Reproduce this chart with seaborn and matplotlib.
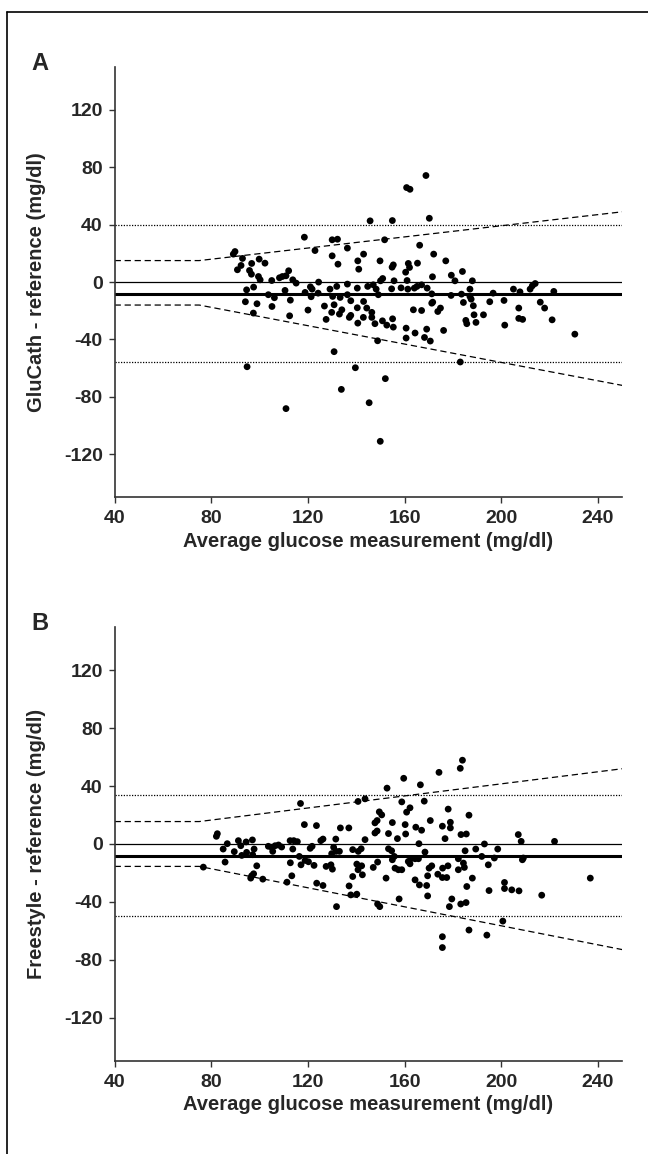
import matplotlib
matplotlib.use("Agg")
import matplotlib.pyplot as plt
import seaborn as sns
import pandas as pd
from matplotlib.lines import Line2D

# Panel A: GluCath - reference vs average glucose
gluc_avg = [118.5, 130.0, 132.2, 122.9, 136.3, 89.8, 89.1, 92.9, 99.8, 102.2, 96.7, 92.3, 90.8, 95.8,
            130.0, 132.4, 140.6, 141.0, 96.6, 99.5, 100.2, 105.0, 108.2, 109.4, 110.9, 112.0, 113.7,
            115.1, 124.4, 94.6, 97.5, 110.5, 103.6, 106.1, 118.8, 121.0, 121.7, 121.3, 124.2, 129.1,
            131.9, 136.3, 130.2, 133.3, 136.3, 137.7, 140.4, 140.4, 94.1, 98.9, 97.4, 105.1, 112.7,
            112.4, 120.0, 126.8, 130.8, 129.8, 127.5, 134.0, 133.0, 137.1, 137.7, 140.6, 130.8, 94.8,
            139.6, 133.8, 110.9,
            168.8, 160.8, 162.2, 145.7, 154.9, 170.2, 151.7, 166.2, 143.0, 172.0, 149.8, 155.3, 154.8,
            161.5, 162.0, 160.4, 165.3, 177.0, 179.3, 180.8, 183.9, 171.5, 188.0, 150.9, 150.0, 155.6,
            161.0, 144.7, 147.0, 148.2, 149.1, 154.6, 158.5, 161.3, 164.0, 165.1, 167.0, 169.3, 171.2,
            179.2, 183.5, 187.0, 187.0, 187.5, 196.6, 205.0, 207.7, 211.9, 212.8, 143.0, 144.3, 146.4,
            142.9, 146.4, 147.7, 150.8, 152.6, 155.0, 155.3, 163.6, 167.0, 171.2, 171.6, 173.7, 174.8,
            184.3, 188.4, 185.3, 185.7, 188.7, 189.5, 192.6, 195.2, 201.1, 207.2, 207.2, 208.8, 201.4,
            160.6, 160.6, 164.3, 168.2, 169.1, 170.6, 176.1, 148.8, 183.0, 152.0, 145.3, 149.9,
            214.0, 216.1, 217.9, 221.0, 221.7, 230.4]
gluc_diff = [31.3, 29.5, 29.9, 22.0, 23.7, 21.3, 19.5, 16.5, 16.0, 13.2, 13.0, 11.6, 8.6, 8.1,
             18.3, 12.5, 14.8, 9.0, 5.5, 3.9, 1.6, 1.1, 3.0, 3.9, 4.4, 7.9, 1.6,
             -0.7, 0.0, -5.4, -3.5, -5.8, -8.8, -10.9, -7.2, -3.3, -4.9, -10.2, -7.7, -4.9,
             -3.0, -1.4, -10.0, -10.7, -8.8, -13.0, -4.2, -17.9, -13.7, -15.1, -21.6, -17.0, -12.6,
             -23.5, -19.5, -16.7, -15.8, -21.1, -26.0, -19.3, -22.3, -24.6, -23.2, -28.6, -48.5, -59.0,
             -59.7, -74.8, -88.2,
             74.3, 65.9, 64.7, 42.7, 42.9, 44.5, 29.5, 25.7, 19.5, 19.5, 14.8, 12.0, 10.4,
             13.0, 10.2, 6.9, 13.2, 14.8, 4.8, 0.9, 7.4, 3.7, 0.9, 2.5, 0.9, 0.9,
             1.1, -3.0, -1.9, -4.9, -8.8, -4.7, -4.0, -4.9, -4.2, -3.0, -1.9, -4.2, -8.2,
             -9.3, -8.4, -4.9, -10.0, -11.9, -7.7, -4.9, -6.8, -4.9, -2.6, -13.5, -18.1, -21.1,
             -24.6, -24.6, -29.0, -27.0, -30.0, -25.6, -31.4, -19.3, -19.8, -14.7, -14.0, -20.5, -18.1,
             -14.2, -16.5, -26.7, -29.0, -22.8, -28.1, -22.8, -13.7, -12.8, -18.1, -25.3, -26.0, -30.0,
             -32.1, -39.0, -35.5, -38.6, -32.8, -41.1, -33.7, -40.9, -55.7, -67.3, -84.1, -111.0,
             -1.0, -14.0, -18.1, -26.3, -6.5, -36.3]

# Panel B: Freestyle - reference vs average glucose
free_avg = [116.9, 140.7, 82.5, 82.1, 86.6, 84.9, 89.5, 91.2, 92.2, 94.4, 97.0, 92.6, 94.6, 97.7,
            97.1, 85.7, 98.8, 96.7, 97.5, 96.3, 101.3, 76.7, 103.6, 105.0, 106.4, 107.8, 109.1, 105.4,
            112.6, 114.1, 115.6, 113.7, 116.4, 118.8, 120.2, 122.5, 117.1, 112.7, 113.3, 111.3, 118.5,
            123.5, 120.9, 121.7, 125.3, 126.2, 131.5, 133.4, 136.9, 130.6, 131.6, 133.0, 129.8, 138.5,
            127.5, 129.5, 130.1, 123.6, 126.2, 131.8, 137.0, 137.7, 140.2, 140.7, 140.2, 138.5,
            183.9, 183.0, 174.2, 159.6, 166.5, 152.7, 143.6, 158.8, 168.1, 149.5, 150.5, 160.8, 162.2,
            178.0, 186.6, 148.6, 147.7, 154.9, 160.2, 170.6, 164.6, 167.0, 175.6, 178.9, 178.9, 148.6,
            147.7, 153.3, 160.4, 157.0, 176.7, 183.3, 185.5, 207.0, 208.2, 222.0, 143.6, 165.9, 142.0,
            140.8, 153.3, 154.6, 168.4, 185.0, 189.4, 193.0, 198.5, 155.7, 154.9, 161.5, 162.6, 164.3,
            165.7, 162.2, 182.2, 184.3, 191.9, 197.1, 208.7, 209.1, 194.6, 148.8, 147.0, 142.2, 142.5,
            156.0, 157.4, 158.8, 171.2, 170.1, 175.7, 177.9, 173.7, 175.6, 177.4, 182.2, 184.7, 169.5,
            164.3, 166.1, 169.1, 169.5, 188.0, 185.7, 152.3, 194.9, 201.3, 201.3, 204.3, 207.3, 216.7,
            148.8, 149.7, 157.7, 179.5, 178.5, 183.2, 185.4, 200.6, 186.6, 194.0, 175.6, 175.6, 236.8]
free_diff = [28.0, 29.4, 7.1, 5.3, 0.2, -3.5, -5.3, 2.3, -1.2, 1.4, 2.8, -7.9, -5.8, -3.5,
             -7.4, -12.5, -15.1, -22.0, -20.6, -23.6, -24.3, -16.0, -1.6, -2.3, -1.2, -0.7, -2.1, -5.1,
             2.3, 2.3, 1.6, -3.5, -8.6, -11.4, -12.3, -14.8, -14.4, -13.0, -22.0, -26.4, 13.4,
             12.7, -3.0, -1.6, 2.3, 3.4, 3.4, 11.1, 11.1, -2.3, -5.1, -5.1, -6.7, -3.9,
             -15.5, -14.4, -17.4, -27.1, -28.7, -43.3, -29.0, -35.2, -34.7, -17.8, -13.9, -22.5,
             57.9, 52.3, 49.5, 45.4, 40.9, 38.6, 31.2, 29.1, 29.6, 22.2, 20.1, 22.0, 25.0,
             24.1, 19.9, 16.2, 14.6, 14.8, 13.4, 16.2, 11.6, 9.5, 12.3, 15.0, 11.1, 9.0,
             7.6, 7.2, 6.9, 3.7, 3.7, 6.5, 6.9, 6.5, 1.8, 1.8, 3.0, 0.2, -3.3,
             -5.1, -3.3, -4.7, -5.6, -4.7, -3.5, 0.0, -3.5, -8.6, -10.9, -12.1, -10.2, -10.2,
             -10.2, -13.7, -10.2, -13.2, -8.6, -9.7, -10.9, -9.7, -14.4, -12.5, -16.2, -15.1, -21.3,
             -16.7, -17.8, -17.8, -15.1, -16.7, -16.7, -15.1, -20.9, -23.2, -23.2, -17.8, -16.2, -22.0,
             -24.8, -28.3, -28.7, -35.9, -23.6, -29.4, -23.6, -32.2, -26.6, -30.8, -31.7, -32.4, -35.4,
             -41.5, -43.3, -38.0, -38.0, -43.3, -41.5, -40.5, -53.3, -59.5, -63.0, -64.1, -71.6, -23.6]

# bias and limits of agreement
gluc_bias = -8.5
gluc_loa = [39.5, -56.0]
free_bias = -8.0
free_loa = [33.7, -49.7]

# dashed prediction band (flat below 75, then linear)
band_x = [40, 75, 250]
gluc_band_hi = [15, 15, 49]
gluc_band_lo = [-16, -16, -72]
free_band_hi = [15.5, 15.5, 52]
free_band_lo = [-15.5, -15.5, -73]

x_ticks = [40, 80, 120, 160, 200, 240]
y_ticks = [-120, -80, -40, 0, 40, 80, 120]

sns.set_style("ticks")
plt.rcParams["font.family"] = ["Liberation Sans", "DejaVu Sans"]
plt.rcParams["axes.unicode_minus"] = False

fig = plt.figure(figsize=(6.48, 11.54), dpi=100)

# outer frame (open on right and bottom)
fig.add_artist(Line2D([0.0108, 0.0108], [0, 0.9896], color="black", lw=1.2))
fig.add_artist(Line2D([0.0108, 1.0], [0.9896, 0.9896], color="black", lw=1.2))

panels = [
    ("A", [0.1769, 0.5691, 0.7833, 0.3729], gluc_avg, gluc_diff, gluc_bias, gluc_loa,
     gluc_band_hi, gluc_band_lo, "GluCath - reference (mg/dl)"),
    ("B", [0.1769, 0.0806, 0.7833, 0.3761], free_avg, free_diff, free_bias, free_loa,
     free_band_hi, free_band_lo, "Freestyle - reference (mg/dl)"),
]

for letter, pos, xs, ys, bias, loa, hi, lo, ylab in panels:
    ax = fig.add_axes(pos)
    df = pd.DataFrame({"avg": xs, "diff": ys})
    ax.axhline(0, color="black", lw=0.9, zorder=1)
    ax.axhline(bias, color="black", lw=2.2, zorder=1)
    for v in loa:
        ax.axhline(v, color="black", lw=0.9, ls=(0, (1, 1.2)), zorder=1)
    ax.plot(band_x, hi, color="black", lw=0.9, ls=(0, (5, 3)), zorder=1)
    ax.plot(band_x, lo, color="black", lw=0.9, ls=(0, (5, 3)), zorder=1)
    sns.scatterplot(data=df, x="avg", y="diff", ax=ax, color="black", s=24,
                    edgecolor="none", zorder=3)
    ax.set_xlim(40, 250)
    ax.set_ylim(-150, 150)
    ax.set_xticks(x_ticks)
    ax.set_yticks(y_ticks)
    for sp in ["top", "right"]:
        ax.spines[sp].set_visible(False)
    for sp in ["left", "bottom"]:
        ax.spines[sp].set_color("#333333")
        ax.spines[sp].set_linewidth(1.2)
    ax.tick_params(direction="out", length=4.5, width=1, color="#333333", labelsize=14)
    ax.tick_params(axis="x", pad=5)
    ax.tick_params(axis="y", pad=4)
    for t in ax.get_xticklabels() + ax.get_yticklabels():
        t.set_fontweight("bold")
    ax.set_xlabel("Average glucose measurement (mg/dl)", fontsize=14.5, fontweight="bold", labelpad=3)
    ax.set_ylabel(ylab, fontsize=14.5, fontweight="bold")
    ax.yaxis.set_label_coords(-0.135, 0.5)
    ax.text(-0.147, 0.993, letter, transform=ax.transAxes, fontsize=17, fontweight="bold",
            ha="center", va="baseline")

fig.savefig("out.png", dpi=100)
